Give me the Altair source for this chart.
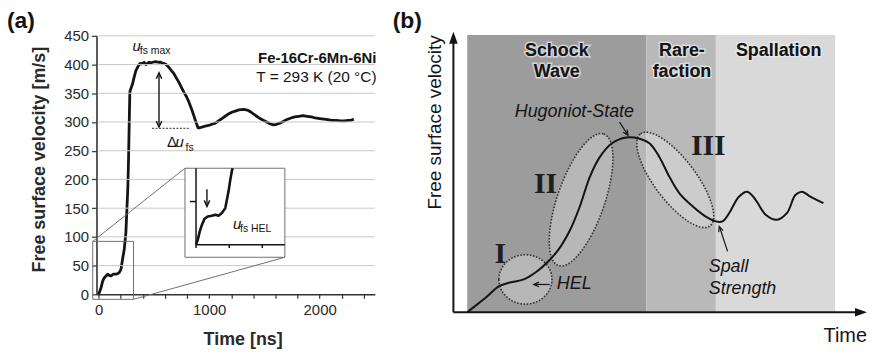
import altair as alt
import pandas as pd

SANS = "Liberation Sans"
SERIF = "Liberation Serif"
INK = "#141414"

# ---------------- panel (a): measured free-surface velocity ----------------
time_ns = [0, 22, 36, 51, 66, 81, 96, 112, 130, 156, 172, 186, 201, 216, 231, 246, 255, 264, 270, 276,
           282, 291, 306, 321, 336, 360, 375, 390, 411, 426, 441, 456, 471, 490, 516, 540, 561, 585, 606, 636,
           660, 681, 705, 726, 750, 771, 795, 816, 840, 861, 880, 899, 915, 935, 965, 995, 1025, 1056, 1085, 1115,
           1145, 1175, 1205, 1236, 1270, 1310, 1335, 1355, 1380, 1400, 1430, 1460, 1490, 1520, 1550, 1580, 1610, 1640, 1670, 1700,
           1740, 1775, 1810, 1850, 1885, 1925, 1960, 2000, 2040, 2075, 2110, 2150, 2190, 2225, 2260, 2285, 2309]
velocity = [0, 12, 23, 29, 32, 35, 33, 32, 35, 35, 36, 38, 43, 61, 78, 107, 147, 187, 234, 295,
            352, 358, 366, 378, 389, 398, 402, 401, 404, 400, 402, 404, 403, 404, 405, 404, 404, 402, 401, 395,
            389, 384, 376, 369, 360, 352, 344, 335, 323, 311, 300, 290, 290, 291, 293, 294, 296, 298, 302, 306,
            310, 314, 317, 319, 321, 322, 321, 320, 317, 314, 310, 306, 303, 300, 297, 295, 296, 298, 301, 304,
            307, 309, 310, 311, 310, 309, 307, 306, 305, 304, 303, 303, 302, 302, 303, 303, 305]
grid_levels = [50, 100, 150, 200, 250, 300, 350, 400, 450]
x_tick_values = [0, 200, 400, 600, 800, 1000, 1200, 1400, 1600, 1800, 2000, 2200, 2400]
y_tick_values = [0, 50, 100, 150, 200, 250, 300, 350, 400, 450]

# magnified HEL detail shown in the inset (plotted in the main plot's units)
inset_t = [881, 897, 915, 935, 957, 987, 1025, 1056, 1085, 1115, 1146, 1160, 1175, 1191, 1207, 1214]
inset_v = [86.5, 95.2, 109.6, 121.2, 131.0, 135.5, 136.7, 138.5, 136.7, 141.4, 150.1, 164.4, 178.8, 199.0, 216.3, 219.3]

# zoom window, inset frame, connectors and inset axes (plot units)
window_t = [-54, 315]
window_v = [-8.7, 92.2]
inset_t_range = [781, 1685]
inset_v_range = [64.5, 219.5]
inset_axis_t = 881
inset_axis_v = 86.5
inset_xticks = [881, 1182, 1481]
inset_ytick = 161.5

# ---------------- panel (b): schematic ----------------
sch_t = [3.3, 5.7, 8.1, 10.9, 13.5, 16.8, 20.0, 22.7, 25.1, 27.9, 30.2, 32.6, 35.0, 37.8, 41.3, 44.5, 46.9, 49.2,
         51.6, 54.0, 57.2, 60.3, 62.7, 64.3, 65.9, 68.2, 70.2, 72.2, 74.6, 77.4, 79.7, 81.7, 83.3, 85.3, 88.4]
sch_v = [0, 2.8, 5.7, 9.3, 10.6, 11.7, 14.6, 18.2, 22.3, 29.4, 37.7, 48.3, 55.4, 60.2, 62.3, 61.9, 60.2, 55.4,
         48.3, 42.4, 37.7, 34.1, 32.4, 32.4, 35.4, 41.2, 43.0, 40.1, 34.8, 33.0, 35.4, 41.8, 43.0, 41.2, 38.9]
zone_names = ["Schock Wave", "Rarefaction", "Spallation"]
zone_start = [3.3, 46.1, 62.7]
zone_end = [46.1, 62.7, 91.2]
zone_line1 = ["Schock", "Rare-", "Spallation"]
zone_line2 = ["Wave", "faction", ""]
zone_center = [24.7, 54.6, 77.7]
zone_colors = ["#9c9c9c", "#b9b9b9", "#d9d9d9"]

roman = ["I", "II", "III"]
roman_t = [11.2, 22.0, 60.9]
roman_v = [17.7, 42.6, 56.0]

# ---------------- scales (each panel has its own) ----------------
W, H = 866, 342


def a_x():
    return alt.Scale(domain=[-20, 2500], range=[89, 369], nice=False, zero=False)


def a_y():
    return alt.Scale(domain=[0, 450], range=[287, 27], nice=False, zero=False)


def b_x():
    return alt.Scale(domain=[0, 100], range=[448, 869], nice=False, zero=False)


def b_y():
    return alt.Scale(domain=[0, 100], range=[305, 23], nice=False, zero=False)


def ea(x, y, x2=None, y2=None, ax=None, ay=None):
    e = dict(x=alt.X(f"{x}:Q", scale=a_x(), axis=ax), y=alt.Y(f"{y}:Q", scale=a_y(), axis=ay))
    if x2:
        e["x2"] = alt.X2(x2)
    if y2:
        e["y2"] = alt.Y2(y2)
    return e


def eb(x, y, x2=None, y2=None):
    e = dict(x=alt.X(f"{x}:Q", scale=b_x(), axis=None), y=alt.Y(f"{y}:Q", scale=b_y(), axis=None))
    if x2:
        e["x2"] = alt.X2(x2)
    if y2:
        e["y2"] = alt.Y2(y2)
    return e


OPEN_V = "M -0.45 1 L 0 0 L 0.45 1"
FILLED_HEAD = "M 0 0 L -0.36 1 L 0.36 1 Z"


def ellipse_path(ratio):
    return f"M -1 0 A 1 {ratio} 0 1 1 1 0 A 1 {ratio} 0 1 1 -1 0 Z"


def text_layer(df, enc, **kw):
    base = dict(font=SANS, color=INK, baseline="alphabetic")
    base.update(kw)
    return alt.Chart(df).mark_text(**base).encode(text="label:N", **enc)


# ---------------- panel (a) layers ----------------
x_axis = alt.Axis(values=x_tick_values, format="d", labelExpr="datum.value % 1000 === 0 ? datum.label : ''",
                  orient="bottom", offset=-(H - 287), grid=False, labelFlush=False, labelOverlap=False,
                  domainColor="#333", domainWidth=1.6, tickColor="#333", tickSize=4, tickWidth=1.2,
                  labelFont=SANS, labelFontSize=15, labelColor="#2a2a2a", labelPadding=4,
                  title="Time [ns]", titleFont=SANS, titleFontSize=18, titleFontWeight="bold", titleColor="#2a2a2a",
                  titleX=236, titleY=50, titleBaseline="alphabetic", titleAlign="center")
y_axis = alt.Axis(values=y_tick_values, format="d", orient="left", offset=-89, grid=False, labelFlush=False,
                  domainColor="#333", domainWidth=1.6, tickColor="#333", tickSize=5, tickWidth=1.2,
                  labelFont=SANS, labelFontSize=15, labelColor="#2a2a2a", labelPadding=3,
                  title="Free surface velocity [m/s]", titleFont=SANS, titleFontSize=18, titleFontWeight="bold",
                  titleColor="#2a2a2a", titleAngle=270, titleX=-57, titleY=151, titleAlign="center",
                  titleBaseline="middle")

grid = alt.Chart(pd.DataFrame({"v": grid_levels, "t0": 0, "t1": 2500})).mark_rule(
    color="#c8c8c8", strokeWidth=1).encode(**ea("t0", "v", x2="t1"))

window = alt.Chart(pd.DataFrame({"t0": [window_t[0]], "t1": [window_t[1]], "v0": [window_v[0]], "v1": [window_v[1]]})
                   ).mark_rect(fillOpacity=0, stroke="#707070", strokeWidth=1).encode(**ea("t0", "v0", "t1", "v1"))

connectors = alt.Chart(pd.DataFrame({
    "t0": [window_t[0], window_t[1]], "v0": [window_v[1], window_v[0]],
    "t1": [inset_t_range[0], inset_t_range[1]], "v1": [inset_v_range[1], inset_v_range[0]]})
).mark_rule(color="#707070", strokeWidth=1).encode(**ea("t0", "v0", "t1", "v1"))

inset_frame = alt.Chart(pd.DataFrame({"t0": [inset_t_range[0]], "t1": [inset_t_range[1]],
                                      "v0": [inset_v_range[0]], "v1": [inset_v_range[1]]})
                        ).mark_rect(fill="white", stroke="#707070", strokeWidth=1).encode(**ea("t0", "v0", "t1", "v1"))

inset_rules_df = pd.DataFrame({
    "t0": [inset_axis_t, inset_axis_t] + inset_xticks + [inset_axis_t - 56],
    "v0": [inset_axis_v, inset_axis_v] + [inset_axis_v] * 3 + [inset_ytick],
    "t1": [inset_axis_t, inset_t_range[1]] + inset_xticks + [inset_axis_t],
    "v1": [inset_v_range[1], inset_axis_v] + [inset_axis_v - 6] * 3 + [inset_ytick],
})
inset_rules = alt.Chart(inset_rules_df).mark_rule(color=INK, strokeWidth=1.5).encode(**ea("t0", "v0", "t1", "v1"))

inset_curve = alt.Chart(pd.DataFrame({"t": inset_t, "v": inset_v})).mark_line(
    color=INK, strokeWidth=2.6, strokeJoin="round").encode(**ea("t", "v"))

curve = alt.Chart(pd.DataFrame({"t": time_ns, "v": velocity})).mark_line(
    color=INK, strokeWidth=2.8, strokeJoin="round").encode(**ea("t", "v", ax=x_axis, ay=y_axis))

a_shafts = alt.Chart(pd.DataFrame({"t0": [546, 980], "v0": [292, 183], "t1": [546, 980], "v1": [385, 154]})
                     ).mark_rule(color=INK, strokeWidth=1.4).encode(**ea("t0", "v0", "t1", "v1"))
a_heads = alt.Chart(pd.DataFrame({"t": [546, 546, 980], "v": [386, 291, 152.9], "ang": [0, 180, 180]})
                    ).mark_point(shape=OPEN_V, size=150, filled=False, stroke=INK, strokeWidth=1.4, opacity=1
                                 ).encode(angle=alt.Angle("ang:Q", scale=None), **ea("t", "v"))
dotted = alt.Chart(pd.DataFrame({"t0": [483], "t1": [816], "v": [289]})).mark_rule(
    color="#555", strokeWidth=1.2, strokeDash=[2, 1.5]).encode(**ea("t0", "v", x2="t1"))

a_tag = text_layer(pd.DataFrame({"label": ["(a)"], "t": [-830], "v": [464]}), ea("t", "v"),
                   fontSize=23, fontWeight="bold", align="left")
a_alloy = text_layer(pd.DataFrame({"label": ["Fe-16Cr-6Mn-6Ni"], "t": [2515], "v": [403]}), ea("t", "v"),
                     fontSize=15, fontWeight="bold", align="right")
a_temp = text_layer(pd.DataFrame({"label": ["T = 293 K (20 °C)"], "t": [2515], "v": [369]}), ea("t", "v"),
                    fontSize=15.5, align="right")
a_u = text_layer(pd.DataFrame({"label": ["u", "u", "u"], "t": [306, 695, 1216], "v": [424, 256, 114]}),
                 ea("t", "v"), fontSize=15, fontStyle="italic", align="left")
a_delta = text_layer(pd.DataFrame({"label": ["Δ"], "t": [618], "v": [256]}), ea("t", "v"),
                     fontSize=15, align="left")
a_sub = text_layer(pd.DataFrame({"label": ["fs max", "fs", "fs HEL"], "t": [372, 786, 1279], "v": [419, 249, 109]}),
                   ea("t", "v"), fontSize=10.5, align="left")

a_layers = [curve, grid, window, connectors, inset_frame, inset_rules, inset_curve,
            a_shafts, a_heads, dotted, a_tag, a_alloy, a_temp, a_u, a_delta, a_sub]

# ---------------- panel (b) layers ----------------
zones = alt.Chart(pd.DataFrame({"zone": zone_names, "t0": zone_start, "t1": zone_end, "v0": 0, "v1": 98.9})
                  ).mark_rect().encode(
    color=alt.Color("zone:N", scale=alt.Scale(domain=zone_names, range=zone_colors), legend=None),
    **eb("t0", "v0", "t1", "v1"))

ellipse_specs = [((17.2, 11.7), 2852, 0.93, 0), ((30.5, 40.1), 19600, 0.34, 109), ((53.0, 47.2), 13456, 0.36, 53)]
ellipses = [
    alt.Chart(pd.DataFrame({"t": [c[0]], "v": [c[1]]})).mark_point(
        shape=ellipse_path(r), size=s, angle=a, filled=True, fill="white", fillOpacity=0.28,
        stroke="#333", strokeWidth=1.6, strokeDash=[1.6, 1.6], opacity=1).encode(**eb("t", "v"))
    for c, s, r, a in ellipse_specs
]

sch_curve = alt.Chart(pd.DataFrame({"t": sch_t, "v": sch_v})).mark_line(
    color=INK, strokeWidth=2, interpolate="catmull-rom").encode(**eb("t", "v"))

b_axes = alt.Chart(pd.DataFrame({"t0": [0, 0], "v0": [0, 0], "t1": [0, 97], "v1": [97, 0]})).mark_rule(
    color=INK, strokeWidth=2).encode(**eb("t0", "v0", "t1", "v1"))
b_axis_heads = alt.Chart(pd.DataFrame({"t": [0, 98.8], "v": [100, 0], "ang": [0, 90]})).mark_point(
    shape=FILLED_HEAD, size=576, filled=True, fill=INK, strokeWidth=0, opacity=1).encode(
    angle=alt.Angle("ang:Q", scale=None), **eb("t", "v"))

b_shafts = alt.Chart(pd.DataFrame({"t0": [39.7, 23.0, 65.5], "v0": [67.8, 9.9, 21.7],
                                   "t1": [41.6, 19.4, 63.6], "v1": [63.4, 9.9, 30.3]})).mark_rule(
    color=INK, strokeWidth=1.2).encode(**eb("t0", "v0", "t1", "v1"))
b_heads = alt.Chart(pd.DataFrame({"t": [41.7, 19.2, 63.5], "v": [63.1, 9.9, 30.6], "ang": [147, 270, 341]})
                    ).mark_point(shape=OPEN_V, size=110, filled=False, stroke=INK, strokeWidth=1.2, opacity=1
                                 ).encode(angle=alt.Angle("ang:Q", scale=None), **eb("t", "v"))

zone_df = pd.DataFrame({"label": zone_line1 + zone_line2, "t": zone_center * 2,
                        "v": [91.5] * 3 + [84.0] * 3})
zone_halo = text_layer(zone_df, eb("t", "v"), fontSize=18, fontWeight="bold", align="center",
                       stroke="#ececec", strokeWidth=3, strokeOpacity=0.7)
zone_text = text_layer(zone_df, eb("t", "v"), fontSize=18, fontWeight="bold", align="center")

roman_text = text_layer(pd.DataFrame({"label": roman, "t": roman_t, "v": roman_v}), eb("t", "v"),
                        font=SERIF, fontSize=30, fontWeight="bold", align="center", color="#1e1e1e")
hug = text_layer(pd.DataFrame({"label": ["Hugoniot-State"], "t": [28.9], "v": [69.5]}), eb("t", "v"),
                 fontSize=18, fontStyle="italic", align="center")
notes = text_layer(pd.DataFrame({"label": ["HEL", "Spall", "Strength"], "t": [24.7, 61.0, 61.0],
                                 "v": [8.2, 14.2, 6.4]}), eb("t", "v"),
                   fontSize=18, fontStyle="italic", align="left")
b_tag = text_layer(pd.DataFrame({"label": ["(b)"], "t": [-14.5], "v": [101.4]}), eb("t", "v"),
                   fontSize=23, fontWeight="bold", align="left")
b_ytitle = text_layer(pd.DataFrame({"label": ["Free surface velocity"], "t": [-4.3], "v": [67.7]}), eb("t", "v"),
                      fontSize=19, align="center", baseline="middle", angle=270)
b_xtitle = text_layer(pd.DataFrame({"label": ["Time"], "t": [98.8], "v": [-10.7]}), eb("t", "v"),
                      fontSize=20, align="right")

b_layers = [zones, *ellipses, sch_curve, b_axes, b_axis_heads, b_shafts, b_heads,
            zone_halo, zone_text, roman_text, hug, notes, b_tag, b_ytitle, b_xtitle]

chart = alt.layer(*a_layers, *b_layers).resolve_scale(
    x="independent", y="independent", color="independent").properties(
    width=W, height=H, autosize=alt.AutoSizeParams(type="none"), padding=0
).configure_view(strokeWidth=0)

chart.save("out.html", embed_options={"renderer": "svg", "actions": False})
